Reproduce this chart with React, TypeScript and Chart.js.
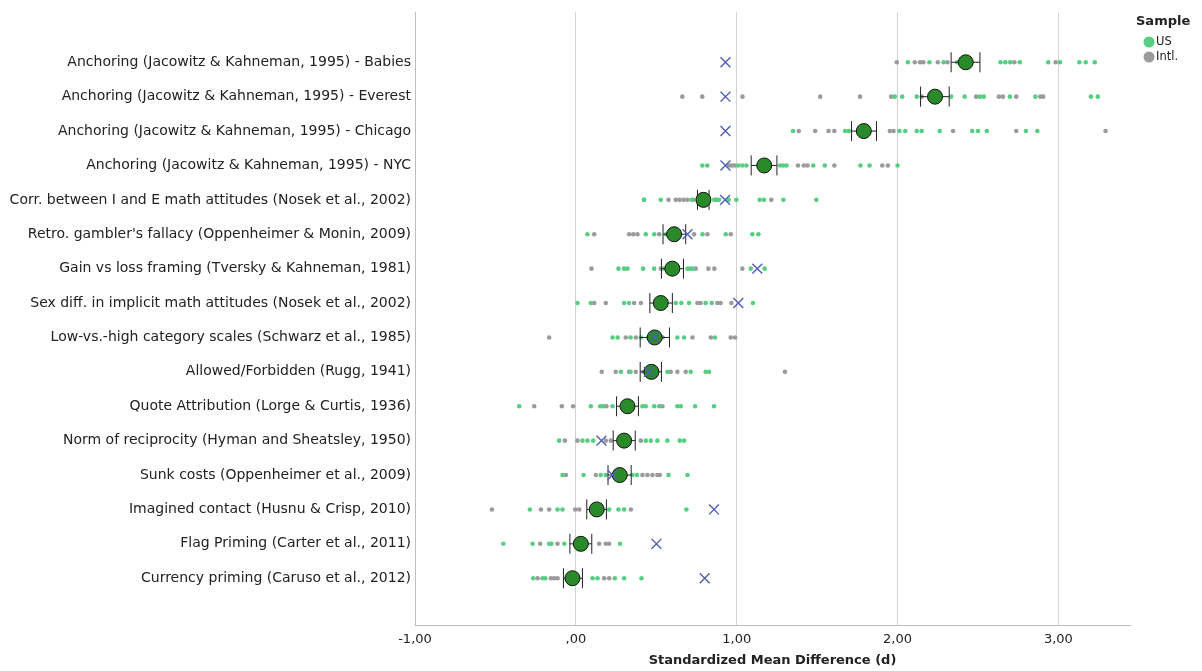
import React, { useEffect, useRef } from "react";
import { Chart, registerables } from "chart.js";

Chart.register(...registerables);

const studies = [
  "Anchoring (Jacowitz & Kahneman, 1995) - Babies",
  "Anchoring (Jacowitz & Kahneman, 1995) - Everest",
  "Anchoring (Jacowitz & Kahneman, 1995) - Chicago",
  "Anchoring (Jacowitz & Kahneman, 1995) - NYC",
  "Corr. between I and E math attitudes (Nosek et al., 2002)",
  "Retro. gambler's fallacy (Oppenheimer & Monin, 2009)",
  "Gain vs loss framing (Tversky & Kahneman, 1981)",
  "Sex diff. in implicit math attitudes (Nosek et al., 2002)",
  "Low-vs.-high category scales (Schwarz et al., 1985)",
  "Allowed/Forbidden (Rugg, 1941)",
  "Quote Attribution (Lorge & Curtis, 1936)",
  "Norm of reciprocity (Hyman and Sheatsley, 1950)",
  "Sunk costs (Oppenheimer et al., 2009)",
  "Imagined contact (Husnu & Crisp, 2010)",
  "Flag Priming (Carter et al., 2011)",
  "Currency priming (Caruso et al., 2012)",
];

const usDots: number[][] = [
  [2.064, 2.198, 2.286, 2.37, 2.45, 2.64, 2.67, 2.7, 2.76, 2.936, 3.01, 3.13, 3.17, 3.226],
  [1.983, 2.029, 2.119, 2.333, 2.417, 2.512, 2.536, 2.698, 2.857, 3.202, 3.245],
  [1.35, 1.674, 1.698, 2.012, 2.048, 2.119, 2.15, 2.262, 2.464, 2.5, 2.555, 2.798, 2.869],
  [0.786, 0.817, 1.01, 1.035, 1.06, 1.27, 1.29, 1.31, 1.476, 1.548, 1.769, 1.826, 2.0],
  [0.424, 0.424, 0.528, 0.72, 0.86, 0.875, 0.89, 0.95, 0.998, 1.143, 1.17, 1.29, 1.495],
  [0.072, 0.435, 0.487, 0.56, 0.787, 0.932, 1.097, 1.135],
  [0.265, 0.3, 0.321, 0.418, 0.487, 0.55, 0.694, 0.71, 0.725, 1.087, 1.174],
  [0.01, 0.093, 0.3, 0.33, 0.621, 0.656, 0.704, 0.807, 0.845, 1.101],
  [0.228, 0.26, 0.34, 0.404, 0.45, 0.631, 0.673, 0.865],
  [0.28, 0.34, 0.569, 0.714, 0.807, 0.828],
  [-0.352, 0.093, 0.151, 0.17, 0.228, 0.414, 0.435, 0.487, 0.518, 0.631, 0.652, 0.741, 0.859],
  [-0.104, 0.041, 0.072, 0.108, 0.435, 0.466, 0.507, 0.569, 0.646, 0.673],
  [-0.083, 0.048, 0.155, 0.186, 0.352, 0.38, 0.576, 0.694],
  [-0.286, -0.114, -0.083, 0.207, 0.265, 0.3, 0.687],
  [-0.451, -0.269, -0.166, -0.152, -0.072, 0.275],
  [-0.265, -0.207, -0.19, 0.104, 0.135, 0.242, 0.3, 0.408],
];

const intlDots: number[][] = [
  [1.995, 2.107, 2.14, 2.16, 2.25, 2.31, 2.726, 2.983],
  [0.662, 0.786, 1.036, 1.519, 1.767, 1.96, 2.15, 2.488, 2.63, 2.655, 2.738, 2.888, 2.905],
  [1.386, 1.488, 1.571, 1.607, 1.952, 1.975, 2.345, 2.738, 3.293],
  [0.952, 0.97, 0.988, 1.381, 1.417, 1.44, 1.607, 1.905, 1.94],
  [0.576, 0.621, 0.645, 0.67, 0.694, 0.73, 0.87, 1.215],
  [0.114, 0.331, 0.357, 0.383, 0.518, 0.735, 0.818, 0.963],
  [0.097, 0.528, 0.745, 0.824, 0.861, 1.035],
  [0.114, 0.186, 0.362, 0.404, 0.756, 0.775, 0.88, 0.9, 0.967],
  [-0.166, 0.31, 0.373, 0.54, 0.725, 0.839, 0.963, 0.99],
  [0.161, 0.248, 0.331, 0.373, 0.42, 0.59, 0.631, 0.683, 1.3],
  [-0.259, -0.087, -0.017, 0.19, 0.538],
  [-0.068, 0.01, 0.186, 0.217, 0.404],
  [-0.062, 0.124, 0.414, 0.445, 0.476, 0.507, 0.522],
  [-0.522, -0.217, -0.166, -0.004, 0.021, 0.342],
  [-0.222, -0.114, 0.145, 0.186, 0.207],
  [-0.238, -0.155, -0.135, -0.114, 0.176, 0.207],
];

const means = [2.424, 2.233, 1.79, 1.171, 0.793, 0.611, 0.6, 0.528, 0.49, 0.47, 0.321, 0.3, 0.273, 0.13, 0.031, -0.021];
const ciLow = [2.333, 2.143, 1.714, 1.09, 0.756, 0.542, 0.532, 0.46, 0.4, 0.4, 0.253, 0.232, 0.2, 0.068, -0.037, -0.077];
const ciHigh = [2.512, 2.321, 1.869, 1.25, 0.828, 0.683, 0.669, 0.6, 0.582, 0.532, 0.389, 0.369, 0.344, 0.19, 0.099, 0.041];
const originalEffects: (number | null)[] = [0.93, 0.93, 0.93, 0.93, 0.928, 0.694, 1.128, 1.01, 0.49, 0.455, null, 0.159, 0.228, 0.859, 0.501, 0.801];

const xTicks = [-1, 0, 1, 2, 3];
const legendItems = [
  { label: "US", color: "#57cf82" },
  { label: "Intl.", color: "#9b9b9b" },
];

const FONT = "'DejaVu Sans', sans-serif";

function fmtTick(v: number): string {
  if (v === 0) return ",00";
  return (v < 0 ? "-" : "") + Math.abs(v) + ",00";
}

export default function App() {
  const ref = useRef<HTMLCanvasElement | null>(null);

  useEffect(() => {
    if (!ref.current) return;
    Chart.defaults.font.family = FONT;
    Chart.defaults.color = "#222";

    const toPts = (arr: number[][]) => arr.flatMap((row, i) => row.map((x) => ({ x, y: i })));

    const errorBars = {
      id: "errorBars",
      beforeDatasetDraw(chart: any, args: any) {
        if (args.index !== 1) return;
        const { ctx, scales } = chart;
        const xs = scales.x;
        const ys = scales.y;
        ctx.save();
        ctx.strokeStyle = "#222";
        ctx.lineWidth = 1;
        means.forEach((_, i) => {
          const y = ys.getPixelForValue(i);
          const x1 = xs.getPixelForValue(ciLow[i]);
          const x2 = xs.getPixelForValue(ciHigh[i]);
          ctx.beginPath();
          ctx.moveTo(x1, y);
          ctx.lineTo(x2, y);
          ctx.moveTo(x1, y - 10);
          ctx.lineTo(x1, y + 10);
          ctx.moveTo(x2, y - 10);
          ctx.lineTo(x2, y + 10);
          ctx.stroke();
        });
        ctx.restore();
      },
    };

    const legendPlugin = {
      id: "sideLegend",
      afterDraw(chart: any) {
        const { ctx } = chart;
        ctx.save();
        ctx.fillStyle = "#222";
        ctx.textBaseline = "middle";
        ctx.textAlign = "left";
        ctx.font = `bold 13px ${FONT}`;
        ctx.fillText("Sample", 1136, 22);
        ctx.font = `11.5px ${FONT}`;
        legendItems.forEach((it, k) => {
          const y = 42 + k * 15;
          ctx.beginPath();
          ctx.fillStyle = it.color;
          ctx.arc(1149, y, 5.5, 0, Math.PI * 2);
          ctx.fill();
          ctx.fillStyle = "#222";
          ctx.fillText(it.label, 1156, y + 0.5);
        });
        ctx.restore();
      },
    };

    const chart = new Chart(ref.current, {
      type: "scatter",
      data: {
        datasets: [
          {
            label: "Original",
            data: originalEffects
              .map((x, i) => (x === null ? null : { x, y: i }))
              .filter((p) => p !== null) as any,
            pointStyle: "crossRot",
            pointRadius: 7,
            borderColor: "#4f5fb3",
            backgroundColor: "#4f5fb3",
            pointBorderWidth: 1.4,
            order: 0,
          },
          {
            label: "Means",
            data: means.map((x, i) => ({ x, y: i })),
            pointRadius: 7.5,
            backgroundColor: "#2a8a2a",
            borderColor: "#111",
            pointBorderWidth: 1,
            order: 1,
          },
          {
            label: "Intl.",
            data: toPts(intlDots),
            pointRadius: 2.3,
            backgroundColor: "#9b9b9b",
            borderWidth: 0,
            pointBorderWidth: 0,
            order: 3,
          },
          {
            label: "US",
            data: toPts(usDots),
            pointRadius: 2.3,
            backgroundColor: "#57cf82",
            borderWidth: 0,
            pointBorderWidth: 0,
            order: 2,
          },
        ],
      },
      options: {
        animation: false,
        responsive: true,
        maintainAspectRatio: false,
        layout: { padding: { top: 11, right: 72, left: 0, bottom: 0 } },
        plugins: {
          legend: { display: false },
          tooltip: { enabled: false },
        },
        scales: {
          x: {
            type: "linear",
            min: -1,
            max: 3.445,
            afterBuildTicks: (s: any) => {
              s.ticks = xTicks.map((v) => ({ value: v }));
            },
            afterFit: (s: any) => {
              s.height = 46;
            },
            grid: { color: "#d2d2d2", drawTicks: false, lineWidth: 1 },
            border: { color: "#bdbdbd" },
            ticks: {
              padding: 7,
              color: "#222",
              font: { size: 13 },
              callback: (v: any) => fmtTick(Number(v)),
            },
            title: {
              display: true,
              text: "Standardized Mean Difference (d)",
              color: "#222",
              font: { size: 13, weight: "bold" },
              padding: { top: 4, bottom: 3 },
            },
          },
          y: {
            type: "linear",
            reverse: true,
            min: -1.45,
            max: 16.36,
            afterBuildTicks: (s: any) => {
              s.ticks = studies.map((_, i) => ({ value: i }));
            },
            afterFit: (s: any) => {
              s.width = 415;
            },
            grid: { display: false, drawTicks: false },
            border: { display: true, color: "#bdbdbd" },
            ticks: {
              padding: 4,
              color: "#222",
              font: { size: 14 },
              autoSkip: false,
              callback: (v: any) => studies[Number(v)] ?? "",
            },
          },
        },
      },
      plugins: [errorBars, legendPlugin],
    } as any);

    return () => chart.destroy();
  }, []);

  return (
    <div style={{ width: 1202, height: 671, position: "relative", background: "#fff" }}>
      <style>{"body{margin:0;}"}</style>
      <canvas ref={ref} />
    </div>
  );
}
